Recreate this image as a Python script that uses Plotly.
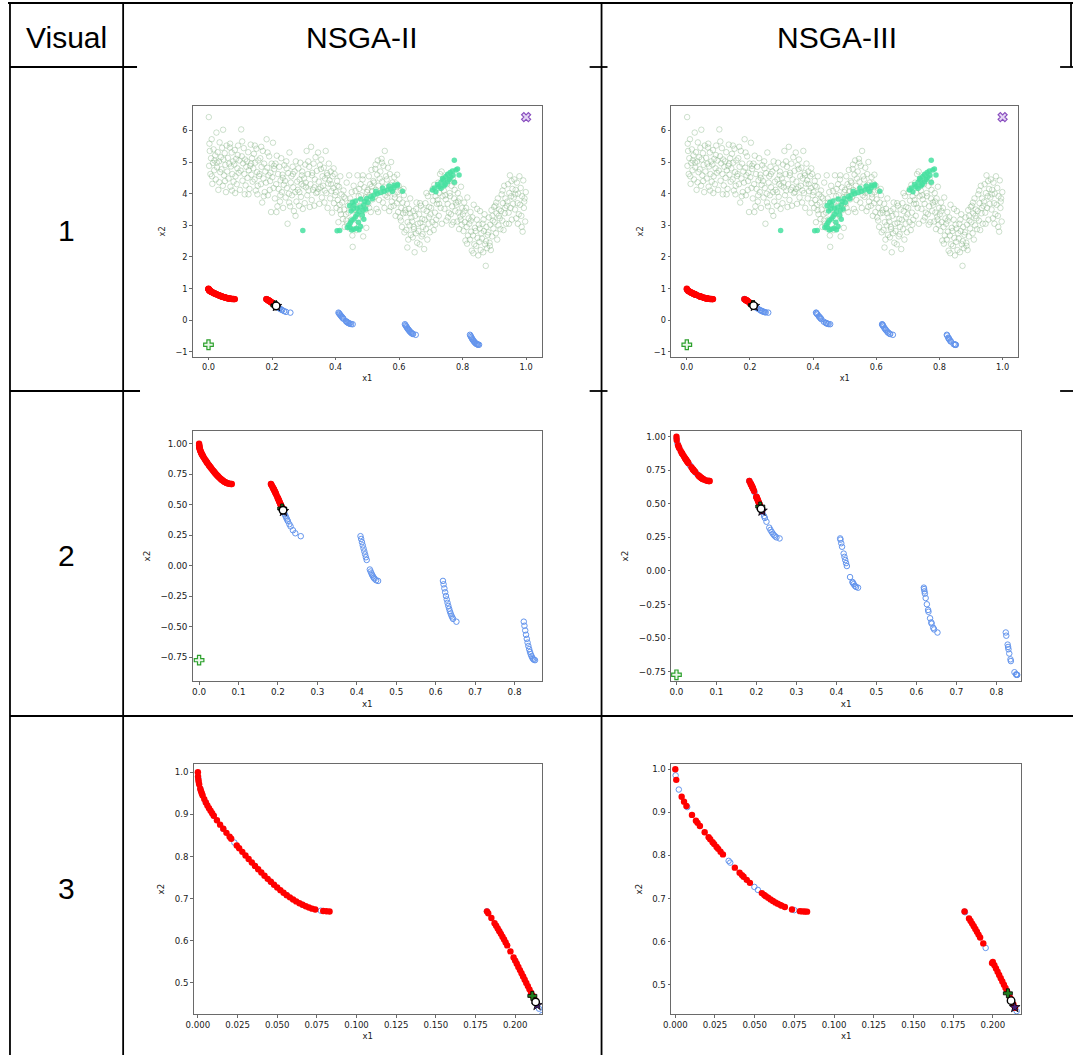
import plotly.graph_objects as go

FIG_W, FIG_H = 1073, 1055

col_labels = ["Visual", "NSGA-II", "NSGA-III"]
row_labels = ["1", "2", "3"]

# Random initial population in objective space (f1, f2)
cloud_pts = [
    (0.001, 6.42), (0.002, 4.88), (0.004, 5.35), (0.006, 4.62), (0.008, 5.12), (0.010, 5.72), (0.012, 4.31), (0.014, 4.97), (0.016, 5.40), (0.018, 4.74), (0.019, 5.05), (0.003, 5.58), (0.011, 4.55),
    (0.021, 5.21), (0.023, 4.45), (0.025, 5.93), (0.027, 4.83), (0.029, 5.31), (0.031, 4.12), (0.033, 5.02), (0.035, 5.62), (0.037, 4.68), (0.039, 5.15), (0.026, 4.98), (0.034, 4.36),
    (0.041, 4.77), (0.043, 5.45), (0.045, 4.25), (0.047, 5.08), (0.049, 4.58), (0.051, 5.28), (0.053, 4.91), (0.055, 4.05), (0.057, 5.52), (0.059, 4.70), (0.046, 6.02), (0.052, 4.40),
    (0.061, 5.13), (0.063, 4.48), (0.065, 4.95), (0.067, 5.46), (0.069, 4.22), (0.071, 4.86), (0.073, 5.30), (0.075, 4.62), (0.077, 5.02), (0.079, 4.38), (0.068, 5.58), (0.074, 4.10),
    (0.081, 4.92), (0.083, 5.38), (0.085, 4.55), (0.087, 5.10), (0.089, 4.30), (0.091, 4.80), (0.093, 5.52), (0.095, 4.66), (0.097, 5.05), (0.099, 4.12), (0.084, 4.02), (0.092, 5.22),
    (0.101, 4.73), (0.103, 6.03), (0.105, 5.18), (0.107, 4.41), (0.109, 4.96), (0.111, 5.44), (0.113, 4.62), (0.115, 5.08), (0.117, 4.26), (0.119, 4.85), (0.106, 5.65), (0.114, 3.98),
    (0.121, 5.02), (0.123, 4.50), (0.125, 5.31), (0.127, 4.74), (0.129, 4.15), (0.131, 4.88), (0.133, 5.55), (0.135, 4.60), (0.137, 5.12), (0.139, 4.38), (0.126, 3.98), (0.134, 4.95),
    (0.141, 4.80), (0.143, 5.26), (0.145, 4.45), (0.147, 4.98), (0.149, 4.10), (0.151, 5.42), (0.153, 4.68), (0.155, 4.25), (0.157, 5.05), (0.159, 4.56), (0.146, 5.52), (0.154, 3.98),
    (0.161, 4.62), (0.163, 5.12), (0.165, 4.30), (0.167, 4.85), (0.169, 3.72), (0.171, 5.35), (0.173, 4.48), (0.175, 4.95), (0.177, 4.05), (0.179, 4.70), (0.166, 5.48), (0.174, 3.92),
    (0.181, 4.35), (0.183, 5.72), (0.185, 4.82), (0.187, 3.95), (0.189, 4.58), (0.191, 5.18), (0.193, 4.12), (0.195, 4.66), (0.197, 3.42), (0.199, 4.95), (0.186, 5.30), (0.194, 4.40),
    (0.201, 4.52), (0.203, 5.61), (0.205, 4.18), (0.207, 4.78), (0.209, 3.85), (0.211, 4.95), (0.213, 4.30), (0.215, 5.20), (0.217, 3.60), (0.219, 4.62), (0.206, 4.88), (0.214, 3.42),
    (0.221, 4.15), (0.223, 4.85), (0.225, 3.75), (0.227, 4.42), (0.229, 5.12), (0.231, 4.05), (0.233, 4.60), (0.235, 3.55), (0.237, 4.28), (0.239, 4.90), (0.226, 3.95), (0.234, 4.50),
    (0.241, 4.40), (0.243, 3.88), (0.245, 5.02), (0.247, 4.18), (0.249, 3.05), (0.251, 4.65), (0.253, 4.00), (0.255, 5.30), (0.257, 3.60), (0.259, 4.35), (0.246, 4.80), (0.254, 3.72),
    (0.261, 4.55), (0.263, 3.95), (0.265, 4.85), (0.267, 4.20), (0.269, 3.45), (0.271, 4.70), (0.273, 4.05), (0.275, 5.02), (0.277, 3.75), (0.279, 4.38), (0.266, 4.62), (0.274, 3.30),
    (0.281, 4.12), (0.283, 4.80), (0.285, 3.62), (0.287, 4.45), (0.289, 4.98), (0.291, 3.90), (0.293, 4.30), (0.295, 4.70), (0.297, 3.52), (0.299, 4.25), (0.286, 4.05), (0.294, 4.58),
    (0.301, 4.48), (0.303, 3.70), (0.305, 4.92), (0.307, 4.20), (0.309, 5.35), (0.311, 3.95), (0.313, 4.62), (0.315, 4.10), (0.317, 4.85), (0.319, 3.58), (0.306, 4.35), (0.314, 5.02),
    (0.321, 4.30), (0.323, 5.48), (0.325, 3.80), (0.327, 4.66), (0.329, 4.12), (0.331, 4.95), (0.333, 3.62), (0.335, 4.45), (0.337, 5.15), (0.339, 4.02), (0.326, 4.58), (0.334, 4.20),
    (0.341, 4.72), (0.343, 4.05), (0.345, 5.30), (0.347, 4.38), (0.349, 3.68), (0.351, 4.90), (0.353, 4.20), (0.355, 5.08), (0.357, 3.88), (0.359, 4.55), (0.346, 4.15), (0.354, 4.78),
    (0.361, 4.25), (0.363, 4.82), (0.365, 3.72), (0.367, 4.48), (0.369, 5.35), (0.371, 4.02), (0.373, 4.65), (0.375, 3.55), (0.377, 4.32), (0.379, 4.95), (0.366, 4.10), (0.374, 4.58),
    (0.381, 4.42), (0.383, 3.85), (0.385, 4.70), (0.387, 4.08), (0.389, 3.40), (0.391, 4.55), (0.393, 4.18), (0.395, 3.70), (0.397, 4.62), (0.399, 3.95), (0.386, 4.30), (0.394, 4.80),
    (0.401, 4.05), (0.403, 3.55), (0.405, 4.40), (0.407, 3.80), (0.409, 3.10), (0.411, 4.22), (0.413, 3.65), (0.415, 4.55), (0.417, 3.35), (0.419, 3.98), (0.406, 4.25), (0.414, 3.48),
    (0.421, 3.72), (0.423, 3.20), (0.425, 4.10), (0.427, 3.50), (0.429, 2.95), (0.431, 3.85), (0.433, 3.35), (0.435, 4.35), (0.437, 3.05), (0.439, 3.62), (0.426, 3.90), (0.434, 3.15),
    (0.441, 3.40), (0.443, 4.58), (0.445, 2.90), (0.447, 3.72), (0.449, 3.18), (0.451, 4.05), (0.453, 2.68), (0.455, 3.55), (0.457, 4.25), (0.459, 3.02), (0.446, 3.85), (0.454, 2.32),
    (0.461, 3.50), (0.463, 4.08), (0.465, 2.85), (0.467, 3.75), (0.469, 4.58), (0.471, 3.22), (0.473, 3.92), (0.475, 2.98), (0.477, 3.60), (0.479, 4.30), (0.466, 3.35), (0.474, 4.15),
    (0.481, 3.95), (0.483, 3.30), (0.485, 4.45), (0.487, 2.65), (0.489, 3.70), (0.491, 4.20), (0.493, 3.48), (0.495, 3.88), (0.497, 2.92), (0.499, 4.05), (0.486, 4.58), (0.494, 3.62),
    (0.501, 4.12), (0.503, 3.68), (0.505, 4.55), (0.507, 3.95), (0.509, 4.30), (0.511, 3.42), (0.513, 4.75), (0.515, 4.08), (0.517, 3.82), (0.519, 4.40), (0.506, 3.55), (0.514, 4.22),
    (0.521, 4.35), (0.523, 3.90), (0.525, 4.78), (0.527, 4.12), (0.529, 3.52), (0.531, 4.60), (0.533, 5.05), (0.535, 4.25), (0.537, 3.80), (0.539, 4.48), (0.526, 4.92), (0.534, 3.42),
    (0.541, 4.70), (0.543, 4.05), (0.545, 5.10), (0.547, 4.38), (0.549, 3.72), (0.551, 4.88), (0.553, 4.20), (0.555, 5.35), (0.557, 3.95), (0.559, 4.55), (0.546, 4.98), (0.554, 3.55),
    (0.561, 4.45), (0.563, 3.90), (0.565, 4.82), (0.567, 4.10), (0.569, 3.45), (0.571, 4.62), (0.573, 4.28), (0.575, 5.00), (0.577, 3.75), (0.579, 4.35), (0.566, 4.02), (0.574, 3.58),
    (0.581, 4.18), (0.583, 3.62), (0.585, 4.52), (0.587, 3.88), (0.589, 3.30), (0.591, 4.32), (0.593, 3.70), (0.595, 4.05), (0.597, 3.42), (0.599, 4.25), (0.586, 3.98), (0.594, 4.60),
    (0.601, 3.82), (0.603, 3.25), (0.605, 4.10), (0.607, 3.55), (0.609, 2.95), (0.611, 3.72), (0.613, 3.38), (0.615, 3.95), (0.617, 2.78), (0.619, 3.48), (0.606, 3.15), (0.614, 4.15),
    (0.621, 3.40), (0.623, 2.85), (0.625, 3.68), (0.627, 3.10), (0.629, 2.55), (0.631, 3.52), (0.633, 3.00), (0.635, 3.85), (0.637, 2.70), (0.639, 3.25), (0.626, 2.30), (0.634, 3.38),
    (0.641, 3.12), (0.643, 2.62), (0.645, 3.45), (0.647, 2.88), (0.649, 2.15), (0.651, 3.30), (0.653, 2.75), (0.655, 3.72), (0.657, 2.45), (0.659, 3.05), (0.646, 2.95), (0.654, 3.52),
    (0.661, 2.82), (0.663, 3.35), (0.665, 2.40), (0.667, 3.08), (0.669, 3.62), (0.671, 2.65), (0.673, 3.20), (0.675, 2.95), (0.677, 3.50), (0.679, 2.25), (0.666, 3.70), (0.674, 2.72),
    (0.681, 3.18), (0.683, 3.70), (0.685, 2.88), (0.687, 3.45), (0.689, 2.55), (0.691, 3.92), (0.693, 3.05), (0.695, 3.58), (0.697, 2.78), (0.699, 3.35), (0.686, 4.02), (0.694, 3.25),
    (0.701, 3.55), (0.703, 4.05), (0.705, 3.10), (0.707, 3.78), (0.709, 2.85), (0.711, 4.28), (0.713, 3.40), (0.715, 3.92), (0.717, 3.18), (0.719, 3.68), (0.706, 4.15), (0.714, 3.02),
    (0.721, 3.80), (0.723, 4.35), (0.725, 3.30), (0.727, 4.02), (0.729, 4.62), (0.731, 3.55), (0.733, 4.18), (0.735, 3.05), (0.737, 3.92), (0.739, 4.45), (0.726, 3.68), (0.734, 4.70),
    (0.741, 4.10), (0.743, 3.52), (0.745, 4.48), (0.747, 3.82), (0.749, 3.15), (0.751, 4.30), (0.753, 3.68), (0.755, 4.58), (0.757, 3.40), (0.759, 4.02), (0.746, 3.95), (0.754, 3.25),
    (0.761, 3.92), (0.763, 3.35), (0.765, 4.25), (0.767, 3.60), (0.769, 4.48), (0.771, 3.10), (0.773, 3.85), (0.775, 4.12), (0.777, 3.45), (0.779, 3.72), (0.766, 3.02), (0.774, 4.35),
    (0.781, 3.65), (0.783, 3.12), (0.785, 4.02), (0.787, 3.40), (0.789, 2.88), (0.791, 3.85), (0.793, 3.28), (0.795, 4.22), (0.797, 3.02), (0.799, 3.55), (0.786, 3.75), (0.794, 3.18),
    (0.801, 3.35), (0.803, 2.82), (0.805, 3.72), (0.807, 3.10), (0.809, 2.52), (0.811, 3.55), (0.813, 2.95), (0.815, 3.88), (0.817, 2.68), (0.819, 3.22), (0.806, 3.45), (0.814, 2.42),
    (0.821, 3.05), (0.823, 2.55), (0.825, 3.42), (0.827, 2.80), (0.829, 2.20), (0.831, 3.25), (0.833, 2.68), (0.835, 3.65), (0.837, 2.40), (0.839, 2.92), (0.826, 3.15), (0.834, 2.12),
    (0.841, 2.82), (0.843, 2.35), (0.845, 3.18), (0.847, 2.60), (0.849, 2.05), (0.851, 3.02), (0.853, 2.48), (0.855, 3.45), (0.857, 2.22), (0.859, 2.75), (0.846, 3.52), (0.854, 2.90),
    (0.861, 2.58), (0.863, 3.05), (0.865, 2.15), (0.867, 2.82), (0.869, 3.35), (0.871, 2.40), (0.873, 1.72), (0.875, 2.95), (0.877, 2.28), (0.879, 2.70), (0.866, 3.18), (0.874, 2.50),
    (0.881, 2.78), (0.883, 3.25), (0.885, 2.45), (0.887, 3.02), (0.889, 2.22), (0.891, 3.48), (0.893, 2.65), (0.895, 3.15), (0.897, 2.90), (0.899, 3.58), (0.886, 2.35), (0.894, 3.30),
    (0.901, 3.10), (0.903, 3.62), (0.905, 2.75), (0.907, 3.38), (0.909, 2.55), (0.911, 3.85), (0.913, 3.00), (0.915, 3.50), (0.917, 3.22), (0.919, 2.88), (0.906, 3.72), (0.914, 3.30),
    (0.921, 3.45), (0.923, 3.98), (0.925, 3.15), (0.927, 3.70), (0.929, 2.85), (0.931, 4.25), (0.933, 3.38), (0.935, 3.85), (0.937, 3.05), (0.939, 3.62), (0.926, 4.10), (0.934, 3.55),
    (0.941, 3.75), (0.943, 4.30), (0.945, 3.40), (0.947, 4.02), (0.949, 4.58), (0.951, 3.55), (0.953, 3.92), (0.955, 3.18), (0.957, 4.15), (0.959, 3.68), (0.946, 3.05), (0.954, 4.40),
    (0.961, 3.88), (0.963, 4.45), (0.965, 3.50), (0.967, 4.12), (0.969, 3.22), (0.971, 4.35), (0.973, 3.70), (0.975, 4.00), (0.977, 3.35), (0.979, 4.55), (0.966, 3.98), (0.974, 3.05),
    (0.981, 3.65), (0.983, 4.18), (0.985, 3.30), (0.987, 3.92), (0.989, 2.80), (0.991, 4.42), (0.993, 3.55), (0.995, 3.85), (0.997, 3.12), (0.999, 4.05), (0.986, 2.95), (0.994, 3.75),
]
cloud_x = [p[0] for p in cloud_pts]
cloud_y = [p[1] for p in cloud_pts]

# Highlighted individuals of the initial population
teal_pts = [
    (0.297, 2.84), (0.405, 2.83), (0.413, 2.84), (0.437, 2.93), (0.442, 3.01), (0.447, 3.08), (0.451, 3.16),
    (0.458, 3.20), (0.463, 3.27), (0.468, 3.35), (0.474, 3.43), (0.468, 3.54), (0.458, 3.64), (0.453, 3.73),
    (0.463, 3.77), (0.479, 3.83), (0.492, 3.75), (0.489, 3.64), (0.487, 3.48), (0.484, 3.33), (0.489, 3.19),
    (0.498, 3.85), (0.511, 3.91), (0.521, 3.96), (0.532, 4.00), (0.542, 4.04), (0.553, 4.07), (0.563, 4.12),
    (0.574, 4.15), (0.584, 4.19), (0.595, 4.25), (0.611, 4.08), (0.445, 2.93), (0.451, 2.85), (0.458, 2.88),
    (0.466, 2.91), (0.474, 2.86), (0.479, 2.96), (0.584, 4.27), (0.595, 4.29), (0.705, 4.12), (0.716, 4.06),
    (0.721, 4.29), (0.732, 4.36), (0.732, 4.17), (0.740, 4.43), (0.742, 4.25), (0.747, 4.54), (0.753, 4.61),
    (0.753, 4.38), (0.761, 4.67), (0.763, 4.51), (0.768, 4.72), (0.774, 5.06), (0.774, 4.36), (0.779, 4.75),
    (0.784, 4.78), (0.789, 4.59), (0.449, 3.45), (0.456, 3.52), (0.444, 3.62), (0.472, 3.10), (0.478, 3.58),
    (0.495, 3.52), (0.502, 3.72), (0.516, 3.84), (0.527, 4.08), (0.548, 4.18), (0.568, 4.24), (0.579, 4.07),
    (0.726, 4.22), (0.737, 4.48), (0.758, 4.45), (0.770, 4.58), (0.746, 4.30), (0.711, 4.18),
]
teal_x = [p[0] for p in teal_pts]
teal_y = [p[1] for p in teal_pts]

# NSGA-II final population (blue) and preferred solutions (red)
n2_blue_x = [0.0002, 0.0015, 0.005, 0.010, 0.016, 0.023, 0.036, 0.046, 0.056, 0.066, 0.0775,
             0.1822, 0.190, 0.200, 0.205, 0.213, 0.215, 0.217, 0.219, 0.221, 0.223, 0.225, 0.229, 0.232, 0.238, 0.244, 0.2578,
             0.4093, 0.411, 0.413, 0.415, 0.417, 0.419, 0.421, 0.423, 0.425, 0.433, 0.435, 0.437, 0.439, 0.441, 0.443, 0.445, 0.449, 0.4539,
             0.6184, 0.620, 0.622, 0.624, 0.626, 0.628, 0.630, 0.632, 0.634, 0.636, 0.638, 0.640, 0.642, 0.644, 0.6525,
             0.8233, 0.825, 0.827, 0.829, 0.831, 0.833, 0.835, 0.837, 0.839, 0.841, 0.843, 0.845, 0.847, 0.849, 0.8518]
n2_blue_y = [0.9859, 0.9612, 0.9285, 0.8969, 0.8658, 0.8331, 0.7777, 0.7399, 0.7083, 0.6853, 0.6713,
             0.6698, 0.6228, 0.5528, 0.5151, 0.4539, 0.4387, 0.4237, 0.4089, 0.3945, 0.3803, 0.3666, 0.3405, 0.3225, 0.2909, 0.2664, 0.2423,
             0.2424, 0.2197, 0.1934, 0.1674, 0.1420, 0.1172, 0.0932, 0.0698, 0.0476, -0.0307, -0.0471, -0.0621, -0.0756, -0.0876, -0.0979, -0.1066, -0.1189, -0.1242,
             -0.1240, -0.1518, -0.1852, -0.2171, -0.2476, -0.2763, -0.3034, -0.3286, -0.3518, -0.3730, -0.3920, -0.4087, -0.4231, -0.4351, -0.4583,
             -0.4579, -0.4917, -0.5297, -0.5656, -0.5989, -0.6296, -0.6578, -0.6831, -0.7054, -0.7247, -0.7408, -0.7538, -0.7636, -0.7700, -0.7733]
n2_red_x = [0.0, 0.0001, 0.0003, 0.0005, 0.0008, 0.0015, 0.002, 0.0025, 0.003, 0.004, 0.005, 0.006, 0.007, 0.008, 0.009,
            0.010, 0.012, 0.014, 0.016, 0.018, 0.020, 0.021, 0.0245, 0.026, 0.028, 0.030, 0.032, 0.034, 0.036, 0.038,
            0.040, 0.042, 0.044, 0.046, 0.048, 0.050, 0.052, 0.054, 0.056, 0.058, 0.060, 0.062, 0.064, 0.066, 0.068,
            0.070, 0.072, 0.074, 0.079, 0.081, 0.083,
            0.1822, 0.183, 0.185, 0.187, 0.188, 0.189, 0.190, 0.191, 0.192, 0.193, 0.194, 0.195, 0.197, 0.199, 0.200,
            0.201, 0.202, 0.203, 0.204, 0.205, 0.206, 0.207, 0.208, 0.209, 0.210, 0.211, 0.212]
n2_red_y = [1.0, 0.99, 0.9827, 0.9776, 0.9717, 0.9612, 0.9552, 0.9498, 0.9450, 0.9363, 0.9285, 0.9214, 0.9148, 0.9086, 0.9026,
            0.8969, 0.8860, 0.8757, 0.8658, 0.8562, 0.8468, 0.8422, 0.8264, 0.8198, 0.8111, 0.8025, 0.7941, 0.7858, 0.7777, 0.7697,
            0.7620, 0.7544, 0.7470, 0.7399, 0.7330, 0.7264, 0.7201, 0.7140, 0.7083, 0.7030, 0.6980, 0.6934, 0.6891, 0.6853, 0.6818,
            0.6788, 0.6762, 0.6740, 0.6705, 0.6699, 0.6696,
            0.6698, 0.6654, 0.6539, 0.6418, 0.6356, 0.6293, 0.6228, 0.6163, 0.6096, 0.6028, 0.5959, 0.5889, 0.5747, 0.5602, 0.5528,
            0.5454, 0.5379, 0.5303, 0.5228, 0.5151, 0.5075, 0.4999, 0.4922, 0.4845, 0.4768, 0.4692, 0.4615]

# NSGA-III final population (blue) and preferred solutions (red)
n3_blue_x = [0.0002, 0.0022, 0.0075, 0.0336, 0.0346, 0.0498, 0.052, 0.075,
             0.1822, 0.1825, 0.1955, 0.215, 0.219, 0.221, 0.225, 0.232, 0.235, 0.238, 0.241, 0.244, 0.247, 0.250, 0.2578,
             0.4093, 0.410, 0.412, 0.414, 0.418, 0.420, 0.422, 0.424, 0.426, 0.434, 0.440, 0.441, 0.443, 0.446, 0.449, 0.4539,
             0.6184, 0.619, 0.620, 0.621, 0.623, 0.626, 0.629, 0.630, 0.634, 0.637, 0.638, 0.642, 0.644, 0.6525,
             0.8233, 0.8245, 0.828, 0.829, 0.830, 0.832, 0.835, 0.836, 0.845, 0.849, 0.850, 0.851, 0.8518]
n3_blue_y = [0.9859, 0.9530, 0.9123, 0.7875, 0.7834, 0.7270, 0.7201, 0.6731,
             0.6698, 0.6682, 0.5854, 0.4387, 0.4089, 0.3945, 0.3666, 0.3225, 0.3058, 0.2909, 0.2776, 0.2664, 0.2571, 0.2500, 0.2423,
             0.2424, 0.2330, 0.2065, 0.1803, 0.1295, 0.1050, 0.0814, 0.0586, 0.0368, -0.0455, -0.0818, -0.0876, -0.0979, -0.1103, -0.1189, -0.1242,
             -0.1240, -0.1347, -0.1518, -0.1686, -0.2014, -0.2476, -0.2901, -0.3034, -0.3518, -0.3828, -0.3920, -0.4231, -0.4351, -0.4583,
             -0.4579, -0.4818, -0.5479, -0.5656, -0.5825, -0.6146, -0.6578, -0.6707, -0.7538, -0.7700, -0.7720, -0.7731, -0.7733]
n3_red_x = [0.0, 0.0006, 0.004, 0.0055, 0.007, 0.0105, 0.013, 0.014, 0.0155, 0.0185, 0.021, 0.022, 0.0235, 0.0245,
            0.026, 0.027, 0.0285, 0.030, 0.0375, 0.0405, 0.042, 0.043, 0.045, 0.047, 0.0545, 0.056, 0.057, 0.0585,
            0.060, 0.0615, 0.063, 0.0645, 0.066, 0.067, 0.069, 0.0735, 0.0785, 0.080, 0.0815, 0.083,
            0.1822, 0.185, 0.186, 0.187, 0.188, 0.189, 0.190, 0.191, 0.192, 0.194, 0.1995, 0.200, 0.201, 0.202,
            0.203, 0.204, 0.205, 0.206, 0.207, 0.208, 0.209, 0.211, 0.213, 0.214]
n3_red_y = [1.0, 0.9755, 0.9363, 0.9249, 0.9148, 0.8941, 0.8808, 0.8757, 0.8683, 0.8538, 0.8422, 0.8377, 0.8309, 0.8264,
            0.8198, 0.8154, 0.8089, 0.8025, 0.7717, 0.7600, 0.7544, 0.7507, 0.7434, 0.7364, 0.7126, 0.7083, 0.7056, 0.7017,
            0.6980, 0.6945, 0.6910, 0.6881, 0.6853, 0.6835, 0.6802, 0.6745, 0.6707, 0.6702, 0.6698, 0.6696,
            0.6698, 0.6539, 0.6479, 0.6418, 0.6356, 0.6293, 0.6228, 0.6163, 0.6096, 0.5959, 0.5502, 0.5528, 0.5454, 0.5379,
            0.5303, 0.5228, 0.5151, 0.5075, 0.4999, 0.4922, 0.4845, 0.4692, 0.4539, 0.4463]

# Reference markers
ideal_pt = (0.0, -0.773)
nadir_pt = (1.0, 6.42)
n2_marks = {"plus": (0.2108, 0.469), "star": (0.2138, 0.447), "ref": (0.2129, 0.4546)}
n3_marks = {"plus": (0.2095, 0.480), "star": (0.2138, 0.4476), "ref": (0.2115, 0.4630)}

# Panel frames in pixels (left, right, top, bottom) and axis ranges
panels = [
    dict(row=0, col=0, box=(186, 538, 106, 356.7), xr=[-0.05, 1.05], yr=[-1.15, 6.77]),
    dict(row=0, col=1, box=(668, 1018, 106, 356.7), xr=[-0.05, 1.05], yr=[-1.15, 6.77]),
    dict(row=1, col=0, box=(186, 538, 431, 681), xr=[-0.0164, 0.8695], yr=[-0.944, 1.104]),
    dict(row=1, col=1, box=(668, 1021, 431, 681), xr=[-0.0136, 0.8623], yr=[-0.819, 1.042]),
    dict(row=2, col=0, box=(187, 538, 764.3, 1014), xr=[-0.0027, 0.2169], yr=[0.426, 1.019]),
    dict(row=2, col=1, box=(668, 1021, 764.3, 1014), xr=[-0.0027, 0.218], yr=[0.432, 1.0116]),
]
row_ticks = [
    dict(xd=0.2, xf=".1f", yd=1, yf="d", fs=8.2),
    dict(xd=0.1, xf=".1f", yd=0.25, yf=".2f", fs=8.8),
    dict(xd=0.025, xf=".3f", yd=0.1, yf=".1f", fs=8.6),
]

INK = "#1a1a1a"
FRAME = "#6a6a6a"

fig = go.Figure()
layout = {}

def px_x(v):
    return v / FIG_W

def px_y(v):
    return 1 - v / FIG_H

for i, p in enumerate(panels):
    n = i + 1
    xa = "x" if n == 1 else f"x{n}"
    ya = "y" if n == 1 else f"y{n}"
    l, r, t, b = p["box"]
    tk = row_ticks[p["row"]]
    font = dict(family="DejaVu Sans", size=tk["fs"], color=INK)
    common = dict(showline=True, mirror=True, linecolor=FRAME, linewidth=1,
                  ticks="outside", ticklen=2.5, tickwidth=0.8, tickcolor=FRAME,
                  showgrid=False, zeroline=False, tickfont=font, tick0=0)
    layout["xaxis" if n == 1 else f"xaxis{n}"] = dict(
        domain=[px_x(l), px_x(r)], range=p["xr"], anchor=ya, dtick=tk["xd"], tickformat=tk["xf"],
        title=dict(text="x1", font=font, standoff=4), **common)
    layout["yaxis" if n == 1 else f"yaxis{n}"] = dict(
        domain=[px_y(b), px_y(t)], range=p["yr"], anchor=xa, dtick=tk["yd"], tickformat=tk["yf"],
        title=dict(text="x2", font=font, standoff=8), **common)

    nsga3 = p["col"] == 1
    bx, by = (n3_blue_x, n3_blue_y) if nsga3 else (n2_blue_x, n2_blue_y)
    rx, ry = (n3_red_x, n3_red_y) if nsga3 else (n2_red_x, n2_red_y)
    marks = n3_marks if nsga3 else n2_marks

    def add(x, y, **kw):
        fig.add_trace(go.Scatter(x=x, y=y, mode="markers", xaxis=xa, yaxis=ya,
                                 showlegend=False, hoverinfo="skip", **kw))

    if p["row"] == 0:
        add(cloud_x, cloud_y, marker=dict(symbol="circle-open", size=5.5,
                                          color="rgba(130,178,130,0.45)", line=dict(width=0.9)))
        add(teal_x, teal_y, marker=dict(symbol="circle", size=5.5, color="rgba(70,224,160,0.85)"))
    add(bx, by, marker=dict(symbol="circle-open", size=5.5, color="#6495ed", line=dict(width=1)))
    add(rx, ry, marker=dict(symbol="circle", size=6.4, color="#ff0000"))
    add([ideal_pt[0]], [ideal_pt[1]], marker=dict(symbol="cross", size=8, color="#eaf6ea",
                                                   line=dict(color="#2ca02c", width=1.2)))
    add([nadir_pt[0]], [nadir_pt[1]], marker=dict(symbol="x", size=8, color="#e4d6f4",
                                                   line=dict(color="#8a4fbf", width=1.2)))
    add([marks["plus"][0]], [marks["plus"][1]], marker=dict(symbol="cross", size=7.5, color="#1f7f1f",
                                                             line=dict(color="black", width=0.8)))
    add([marks["star"][0]], [marks["star"][1]], marker=dict(symbol="star", size=8, color="#4b1f7a",
                                                             line=dict(color="black", width=0.8)))
    add([marks["ref"][0]], [marks["ref"][1]], marker=dict(symbol="circle", size=7.5, color="white",
                                                           line=dict(color="black", width=1.4)))

# Table rules (pixel coordinates)
rules = [
    (0, 3, 1073, 3),
    (2, 3, 2, 1055), (116, 3, 116, 1055), (598, 3, 598, 1055), (1071, 3, 1071, 67),
    (2, 67, 130, 67), (586, 67, 604, 67), (1060, 67, 1073, 67),
    (2, 391, 133, 391), (586, 391, 604, 391), (1060, 391, 1073, 391),
    (2, 716, 1073, 716),
]
shapes = [dict(type="line", xref="paper", yref="paper", x0=px_x(a), y0=px_y(b), x1=px_x(c), y1=px_y(d),
               line=dict(color="black", width=1.8)) for a, b, c, d in rules]

TXT = dict(family="Liberation Sans, Arial, sans-serif", size=30, color="black")
annotations = []
for lab, cx in zip(col_labels, [59, 357, 835]):
    annotations.append(dict(text=lab, x=px_x(cx), y=px_y(37), xref="paper", yref="paper",
                            showarrow=False, font=TXT, xanchor="center", yanchor="middle"))
for lab, cy in zip(row_labels, [230, 555, 888]):
    annotations.append(dict(text=lab, x=px_x(59), y=px_y(cy), xref="paper", yref="paper",
                            showarrow=False, font=TXT, xanchor="center", yanchor="middle"))

fig.update_layout(width=FIG_W, height=FIG_H, margin=dict(l=0, r=0, t=0, b=0),
                  paper_bgcolor="white", plot_bgcolor="white",
                  shapes=shapes, annotations=annotations, **layout)

fig.write_html("out.html")
